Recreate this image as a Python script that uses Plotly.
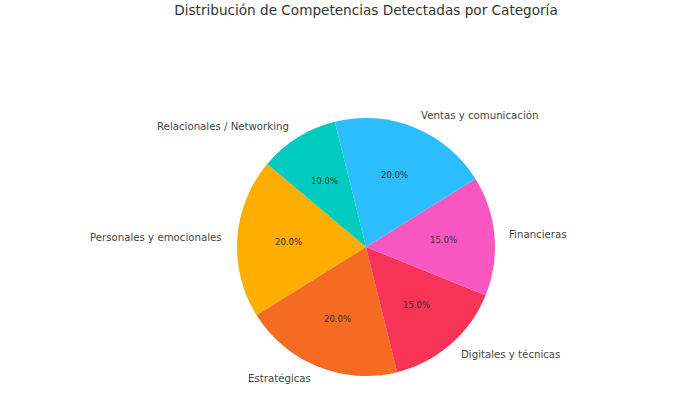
import math
import plotly.graph_objects as go

categories = ["Personales y emocionales", "Estratégicas", "Digitales y técnicas",
              "Financieras", "Ventas y comunicación", "Relacionales / Networking"]
values = [20, 20, 15, 15, 20, 10]
colors = ["#FEAE00", "#F46B21", "#F73357", "#F857C1", "#2BBDFE", "#00CBBF"]
title = "Distribución de Competencias Detectadas por Categoría"

W, H = 675, 396
cx, cy, R = 366, 247, 129
start = 140.0  # degrees, counterclockwise from 3 o'clock

total = sum(values)
first_span = 360 * values[0] / total
# plotly (counterclockwise): first slice spans clockwise from 'rotation'
rotation = 90 - start - first_span

fig = go.Figure(go.Pie(
    labels=categories, values=values, sort=False, direction="counterclockwise",
    rotation=rotation, marker=dict(colors=colors, line=dict(width=0)),
    textinfo="none", hoverinfo="label+percent", showlegend=False,
    domain=dict(x=[(cx - R) / W, (cx + R) / W], y=[(H - cy - R) / H, (H - cy + R) / H]),
))

ang = start
annotations = []
for lab, v in zip(categories, values):
    span = 360 * v / total
    mid = math.radians(ang + span / 2)
    ang += span
    c, s = math.cos(mid), math.sin(mid)
    annotations.append(dict(
        x=(cx + 0.6 * R * c) / W, y=(H - cy + 0.6 * R * s) / H, xref="paper", yref="paper",
        text=f"{100 * v / total:.1f}%", showarrow=False, xanchor="center", yanchor="middle",
        font=dict(family="DejaVu Sans", size=8.5, color="#333333")))
    annotations.append(dict(
        x=(cx + 1.1 * R * c) / W, y=(H - cy + 1.1 * R * s) / H, xref="paper", yref="paper",
        text=lab, showarrow=False, xanchor="left" if c > 0 else "right", yanchor="middle",
        font=dict(family="DejaVu Sans", size=10.2, color="#444444")))

fig.update_layout(
    width=W, height=H, margin=dict(l=0, r=0, t=0, b=0),
    paper_bgcolor="white", plot_bgcolor="white",
    title=dict(text=title, x=cx / W, xanchor="center", y=1 - 10 / H, yanchor="middle",
               yref="container", font=dict(family="DejaVu Sans", size=13.6, color="#333333")),
    annotations=annotations,
)
fig.write_html("out.html", config={"displayModeBar": False},
               post_script="document.body.style.margin='0';document.body.style.overflow='hidden';")
